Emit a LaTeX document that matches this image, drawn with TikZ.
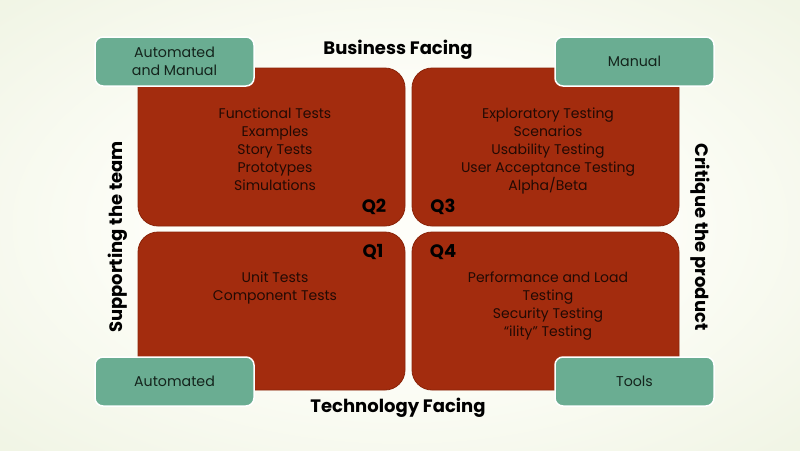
\documentclass[tikz,border=0pt]{standalone}
\usepackage{fontspec}
\setmainfont{Poppins}
\definecolor{quadred}{HTML}{A32C0E}
\definecolor{quadedge}{HTML}{8A2409}
\definecolor{boxgreen}{HTML}{6AAD92}
\definecolor{quadtext}{HTML}{220A04}
\definecolor{boxtext}{HTML}{14241C}
\definecolor{bgin}{HTML}{FEFEF9}
\definecolor{bgout}{HTML}{E4ECD2}
\pgfdeclareradialshading{bgshade}{\pgfpoint{0bp}{0bp}}{color(0bp)=(bgin); color(14bp)=(bgin); color(55bp)=(bgout)}
\tikzset{
  quad/.style={draw=quadedge, line width=0.8pt, fill=quadred, rounded corners=20pt, minimum width=267pt, minimum height=158pt, inner sep=0pt},
  gbox/.style={draw=white, line width=1.5pt, fill=boxgreen, rounded corners=8pt, minimum width=159pt, minimum height=49pt, inner sep=0pt, align=center, text=boxtext, font={\fontsize{14.2}{18}\selectfont}},
  qtext/.style={anchor=north, inner sep=0pt, align=center, text=quadtext, font={\fontsize{14}{18}\selectfont}},
  qlabel/.style={inner sep=0pt, text=black, font={\fontsize{18}{20}\selectfont\bfseries}},
  axis/.style={inner sep=0pt, text=black, font={\fontsize{18}{20}\selectfont\bfseries}}
}
\begin{document}
\begin{tikzpicture}[x=1pt, y=-1pt]
\useasboundingbox (0,0) rectangle (800,450);
\shade[shading=bgshade] (0,0) rectangle (800,450);
% quadrants
\node[quad] (q2) at (271.5,147) {};
\node[quad] (q3) at (545.5,147) {};
\node[quad] (q1) at (271.5,311) {};
\node[quad] (q4) at (545.5,311) {};
% texts
\node[qtext] (t2) at (275,107.5) {Functional Tests\\Examples\\Story Tests\\Prototypes\\Simulations};
\node[qtext] (t3) at (548,107.5) {Exploratory Testing\\Scenarios\\Usability Testing\\User Acceptance Testing\\Alpha/Beta};
\node[qtext] (t1) at (275,271.5) {Unit Tests\\Component Tests};
\node[qtext] (t4) at (548,271.5) {Performance and Load\\Testing\\Security Testing\\“ility” Testing};
% quadrant labels
\node[qlabel] (l2) at (374,207) {Q2};
\node[qlabel] (l3) at (443,207) {Q3};
\node[qlabel] (l1) at (373,252) {Q1};
\node[qlabel] (l4) at (443,252) {Q4};
% green boxes
\node[gbox] (g1) at (174.5,61.5) {Automated\\and Manual};
\node[gbox] (g2) at (634.5,61.5) {Manual};
\node[gbox] (g3) at (174.5,381.5) {Automated};
\node[gbox] (g4) at (634.5,381.5) {Tools};
% axis labels
\node[axis] (top) at (398,50) {Business Facing};
\node[axis] (bot) at (398,408) {Technology Facing};
\node[axis, rotate=90] (lft) at (118,237) {Supporting the team};
\node[axis, rotate=-90] (rgt) at (700,237) {Critique the product};
\end{tikzpicture}
\end{document}
